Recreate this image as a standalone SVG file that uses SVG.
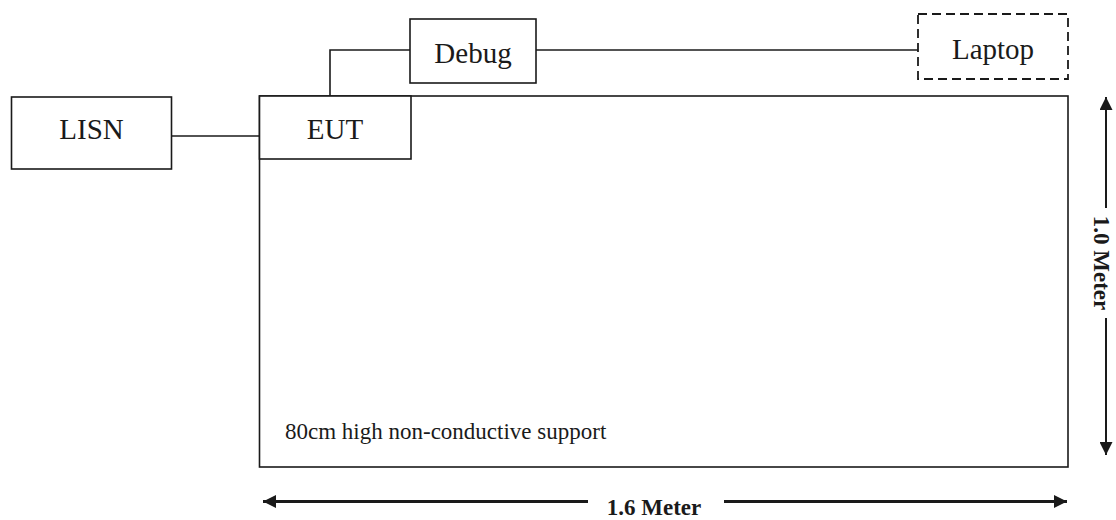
<svg xmlns="http://www.w3.org/2000/svg" width="1116" height="520" viewBox="0 0 1116 520">
  <defs>
    <style>
      .box { fill: #ffffff; stroke: #1a1a1a; stroke-width: 1.6; }
      .dash { fill: none; stroke: #1a1a1a; stroke-width: 1.8; stroke-dasharray: 9 5; }
      .wire { fill: none; stroke: #1a1a1a; stroke-width: 1.6; }
      .dim { fill: none; stroke: #1a1a1a; stroke-width: 2; }
      .lbl { font-family: "Liberation Serif", "Times New Roman", serif; font-size: 29px; fill: #1a1a1a; text-anchor: middle; }
      .note { font-family: "Liberation Serif", "Times New Roman", serif; font-size: 23px; fill: #1a1a1a; }
      .dimtxt { font-family: "Liberation Serif", "Times New Roman", serif; font-size: 23px; font-weight: bold; fill: #1a1a1a; text-anchor: middle; }
    </style>
    <marker id="ah" viewBox="0 0 10 10" refX="10" refY="5" markerWidth="13" markerHeight="13" markerUnits="userSpaceOnUse" orient="auto">
      <path d="M0,0 L10,5 L0,10 Z" fill="#1a1a1a"/>
    </marker>
  </defs>

  <g id="table">
    <rect class="box" x="259.5" y="96" width="808.5" height="371"/>
    <text class="note" x="285" y="439">80cm high non-conductive support</text>
  </g>

  <g id="connectors">
    <line class="wire" x1="171.5" y1="136" x2="259.5" y2="136"/>
    <polyline class="wire" points="330,96 330,50 410,50"/>
    <line class="wire" x1="536" y1="50" x2="918" y2="50"/>
  </g>

  <g id="lisn">
    <rect class="box" x="11.5" y="97" width="160" height="72"/>
    <text class="lbl" x="91.5" y="139">LISN</text>
  </g>

  <g id="eut">
    <rect class="box" x="259.5" y="96" width="151.5" height="63"/>
    <text class="lbl" x="335" y="139">EUT</text>
  </g>

  <g id="debug">
    <rect class="box" x="410" y="19" width="126" height="64"/>
    <text class="lbl" x="473" y="63">Debug</text>
  </g>

  <g id="laptop">
    <rect class="dash" x="918" y="14" width="150" height="65"/>
    <text class="lbl" x="993" y="59">Laptop</text>
  </g>

  <g id="dimensions">
    <line class="dim" x1="1106" y1="208" x2="1106" y2="97" marker-end="url(#ah)"/>
    <line class="dim" x1="1106" y1="318" x2="1106" y2="455" marker-end="url(#ah)"/>
    <text class="dimtxt" transform="translate(1094,263) rotate(90)" x="0" y="0">1.0 Meter</text>
    <line class="dim" x1="588" y1="501.5" x2="263" y2="501.5" marker-end="url(#ah)" style="stroke-width:3"/>
    <line class="dim" x1="724" y1="501.5" x2="1067" y2="501.5" marker-end="url(#ah)" style="stroke-width:3"/>
    <text class="dimtxt" x="654" y="515">1.6 Meter</text>
  </g>
</svg>
